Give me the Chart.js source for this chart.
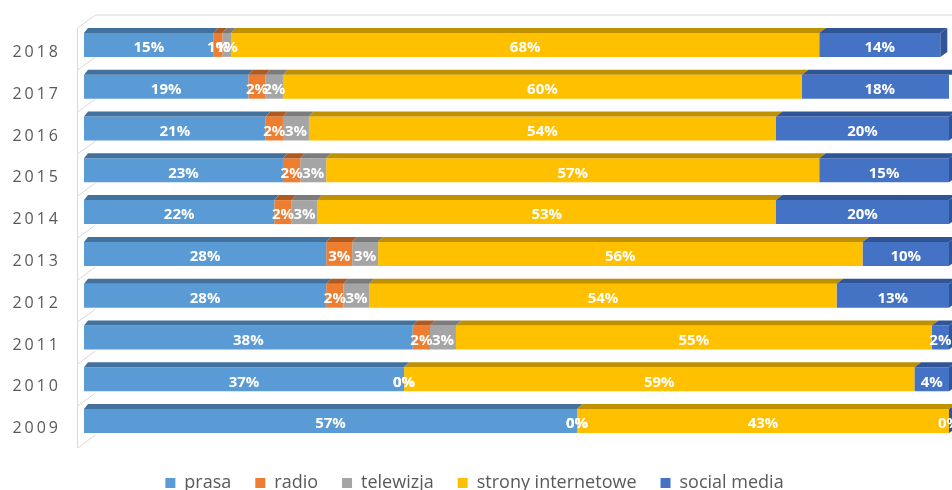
<!DOCTYPE html>
<html>
<head>
<meta charset="utf-8">
<script src="https://cdn.jsdelivr.net/npm/chart.js@4"></script>
<style>
  html, body { margin: 0; padding: 0; background: #fff; overflow: hidden; }
  #wrap { width: 952px; height: 502px; position: relative; }
</style>
</head>
<body>
<div id="wrap"><canvas id="mediaChart"></canvas></div>
<script>
// Udział kanałów w latach (w %)
const years = ['2018', '2017', '2016', '2015', '2014', '2013', '2012', '2011', '2010', '2009'];
const prasa = [15, 19, 21, 23, 22, 28, 28, 38, 37, 57];
const radio = [1, 2, 2, 2, 2, 3, 2, 2, 0, 0];
const telewizja = [1, 2, 3, 3, 3, 3, 3, 3, 0, 0];
const strony = [68, 60, 54, 57, 53, 56, 54, 55, 59, 43];
const social = [14, 18, 20, 15, 20, 10, 13, 2, 4, 0];

const faceColors = ['#5B9BD5', '#ED7D31', '#A5A5A5', '#FFC000', '#4472C4'];
const topColors = ['#41719C', '#AE5A21', '#7B7B7B', '#BF9000', '#2F5597'];

Chart.defaults.font.family = '"Open Sans", sans-serif';

// back wall outline behind the bars
const wall = {
  id: 'wall',
  beforeDatasetsDraw(chart) {
    const { ctx, chartArea: a, width } = chart;
    const y0 = a.top + 4, y1 = a.bottom + 6;
    const step = (y1 - y0) / years.length;
    ctx.save();
    ctx.strokeStyle = '#D9D9D9';
    ctx.lineWidth = 1;
    ctx.beginPath();
    ctx.moveTo(77.5, y1);
    ctx.lineTo(77.5, y0);
    ctx.lineTo(95.5, y0 - 13);
    ctx.lineTo(width, y0 - 13);
    for (let k = 1; k <= years.length; k++) {
      const y = y0 + k * step;
      ctx.moveTo(77.5, y);
      ctx.lineTo(95.5, y - 13);
    }
    ctx.stroke();
    ctx.restore();
  }
};

// top faces and right end of each bar
const bar3d = {
  id: 'bar3d',
  afterDatasetsDraw(chart) {
    const { ctx, chartArea: a } = chart;
    const dx = x => 4 + 3 * (x - a.left) / (a.right - a.left);
    const dy = 5;
    const last = chart.data.datasets.length - 1;
    ctx.save();
    chart.data.datasets.forEach((ds, i) => {
      chart.getDatasetMeta(i).data.forEach(bar => {
        const { x, y, base, height } = bar.getProps(['x', 'y', 'base', 'height'], true);
        const top = y - height / 2, bottom = y + height / 2;
        ctx.fillStyle = topColors[i];
        ctx.beginPath();
        ctx.moveTo(base, top);
        ctx.lineTo(base + dx(base), top - dy);
        ctx.lineTo(x + dx(x), top - dy);
        ctx.lineTo(x, top);
        ctx.closePath();
        ctx.fill();
        if (i === last) {
          ctx.beginPath();
          ctx.moveTo(x, top);
          ctx.lineTo(x + dx(x), top - dy);
          ctx.lineTo(x + dx(x), bottom - dy);
          ctx.lineTo(x, bottom);
          ctx.closePath();
          ctx.fill();
        }
      });
    });
    ctx.restore();
  }
};

// value labels in the middle of each segment
const barLabels = {
  id: 'barLabels',
  afterDatasetsDraw(chart) {
    const { ctx } = chart;
    ctx.save();
    ctx.font = 'bold 15px "Open Sans"';
    ctx.fillStyle = '#FFFFFF';
    ctx.textAlign = 'center';
    ctx.textBaseline = 'middle';
    chart.data.datasets.forEach((ds, i) => {
      chart.getDatasetMeta(i).data.forEach((bar, j) => {
        const { x, y, base } = bar.getProps(['x', 'y', 'base'], true);
        ctx.fillText(ds.data[j] + '%', (x + base) / 2, y + 3);
      });
    });
    ctx.restore();
  }
};

// wider tracking for the year labels
const spacedTicks = {
  id: 'spacedTicks',
  beforeDraw(chart) {
    const s = chart.scales.y;
    if (s._spaced) return;
    const orig = s.drawLabels;
    s.drawLabels = function (area) {
      this.ctx.save();
      this.ctx.letterSpacing = '3px';
      orig.call(this, area);
      this.ctx.restore();
    };
    s._spaced = true;
  }
};

const names = ['prasa', 'radio', 'telewizja', 'strony internetowe', 'social media'];
const series = [prasa, radio, telewizja, strony, social];

new Chart(document.getElementById('mediaChart'), {
  type: 'bar',
  data: {
    labels: years,
    datasets: series.map((d, i) => ({
      label: names[i],
      data: d,
      backgroundColor: faceColors[i],
      borderWidth: 0,
      barPercentage: 0.574,
      categoryPercentage: 1
    }))
  },
  options: {
    indexAxis: 'y',
    responsive: true,
    maintainAspectRatio: false,
    animation: false,
    layout: { padding: { top: 24, right: 3, left: 0, bottom: 0 } },
    scales: {
      x: {
        stacked: true,
        min: 0,
        max: 100,
        ticks: { display: false },
        grid: { display: false, drawTicks: false },
        border: { display: false },
        afterFit: s => { s.height = 8; }
      },
      y: {
        stacked: true,
        grid: { display: false, drawTicks: false },
        border: { display: false },
        ticks: { color: '#595959', font: { size: 16 }, padding: 23, labelOffset: 7.5 },
        afterFit: s => {
          s.width = 84;
          s.paddingTop = 0;
          s.paddingBottom = 0;
        }
      }
    },
    plugins: {
      legend: {
        position: 'bottom',
        labels: {
          boxWidth: 10,
          boxHeight: 10,
          padding: 24,
          color: '#595959',
          font: { size: 18 }
        }
      },
      tooltip: { enabled: false }
    }
  },
  plugins: [spacedTicks, wall, bar3d, barLabels]
});
</script>
</body>
</html>
